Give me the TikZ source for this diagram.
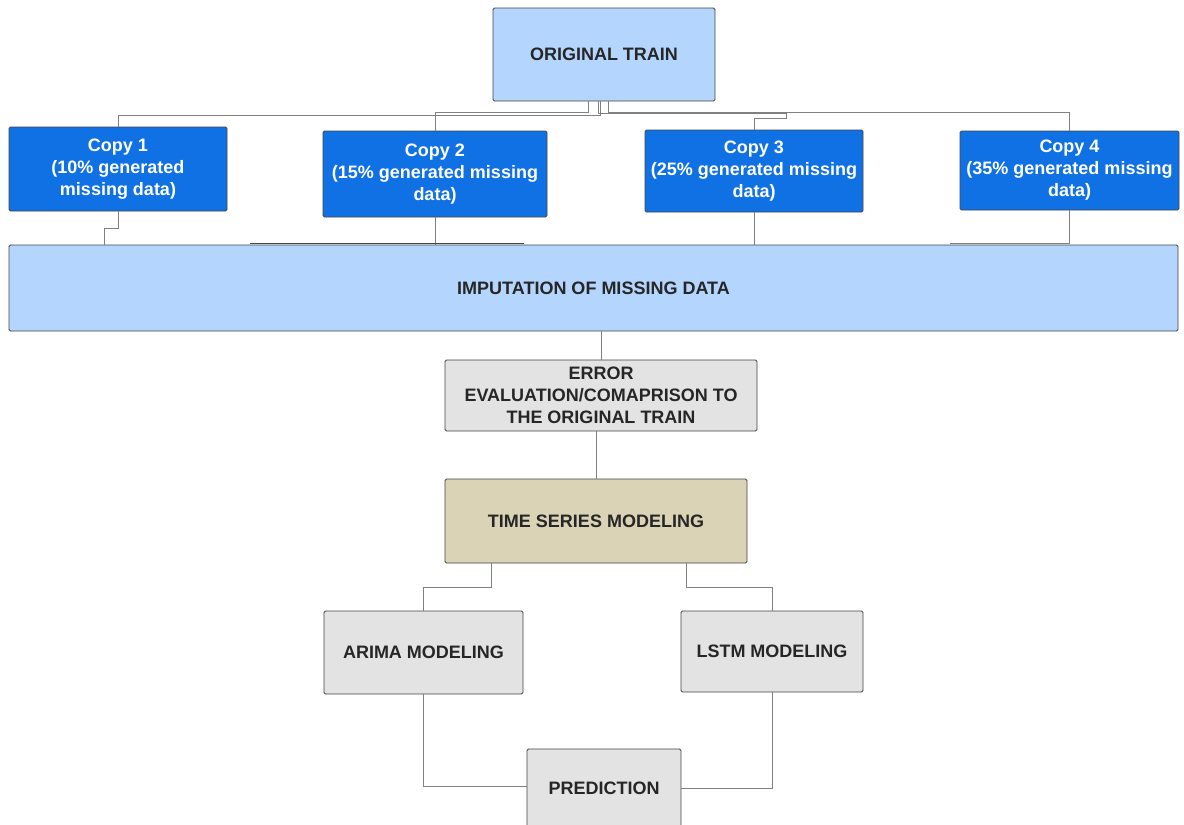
\documentclass[tikz,border=0pt]{standalone}
\usepackage{fontspec}
\setmainfont{Liberation Sans}
\usetikzlibrary{calc}
\definecolor{lightblue}{HTML}{B4D6FE}
\definecolor{copyblue}{HTML}{1071E5}
\definecolor{boxgray}{HTML}{E3E3E3}
\definecolor{tsbeige}{HTML}{DBD3B5}
\definecolor{edgegray}{HTML}{444444}
\definecolor{linegray}{HTML}{808080}
\definecolor{txtdark}{HTML}{262626}
\begin{document}
\begin{tikzpicture}[x=1pt,y=-1pt,
 box/.style={draw=edgegray, line width=0.8pt, rounded corners=1.5pt, inner sep=0pt, align=center, font=\fontsize{18}{22}\selectfont\bfseries, text=txtdark},
 copybox/.style={box, fill=copyblue, text=white},
 lbbox/.style={box, fill=lightblue},
 graybox/.style={box, fill=boxgray},
 tsbox/.style={box, fill=tsbeige},
 conn/.style={draw=linegray, line width=0.8pt}]
\useasboundingbox (0,0) rectangle (1184,825);
\clip (0,0) rectangle (1184,825);

\node[lbbox, minimum width=222pt, minimum height=93pt] (orig) at (604,54.5) {ORIGINAL TRAIN};
\node[copybox, minimum width=218pt, minimum height=84pt] (c1) at (118,169) {Copy 1\\(10\% generated\\missing data)};
\node[copybox, minimum width=224pt, minimum height=86pt] (c2) at (435,174) {Copy 2\\(15\% generated missing\\data)};
\node[copybox, minimum width=218pt, minimum height=82pt] (c3) at (754,171) {Copy 3\\(25\% generated missing\\data)};
\node[copybox, minimum width=219pt, minimum height=79pt] (c4) at (1069.5,170.5) {Copy 4\\(35\% generated missing\\data)};
\node[lbbox, minimum width=1169pt, minimum height=86pt] (imp) at (593.5,288) {IMPUTATION OF MISSING DATA};
\node[graybox, minimum width=312pt, minimum height=71pt] (err) at (601,395.5) {ERROR\\EVALUATION/COMAPRISON TO\\THE ORIGINAL TRAIN};
\node[tsbox, minimum width=302pt, minimum height=84pt] (ts) at (596,521) {TIME SERIES MODELING};
\node[graybox, minimum width=199pt, minimum height=83pt] (arima) at (423.5,652.5) {ARIMA MODELING};
\node[graybox, minimum width=182pt, minimum height=81pt] (lstm) at (772,651.5) {LSTM MODELING};
\node[graybox, minimum width=154pt, minimum height=78pt] (pred) at (604,788) {PREDICTION};

% original train to copies
\draw[conn] ([xshift=-4pt]orig.south) |- ([yshift=11.3pt]c1.north) -- (c1.north);
\draw[conn] ([xshift=-16pt]orig.south) |- ([yshift=18.3pt]c2.north) -- (c2.north);
\draw[conn] ([xshift=-6pt]orig.south) |- ([xshift=32pt,yshift=16.7pt]c3.north) -- ([xshift=32pt,yshift=11.7pt]c3.north) -- ([yshift=11.7pt]c3.north) -- (c3.north);
\draw[conn] ([xshift=4pt]orig.south) |- ([yshift=18.7pt]c4.north) -- (c4.north);

% copies to imputation
\draw[conn] (c1.south) -- ([yshift=-16.7pt]c1.south) -- ([xshift=-13.5pt,yshift=-16.7pt]c1.south) -- ($(c1.south |- imp.north)+(-13.5,0)$);
\draw[conn] (c2.south) -- (c2.south |- imp.north);
\draw[draw=edgegray, line width=0.8pt] ($(c2.south |- imp.north)+(-185,-1)$) -- ($(c2.south |- imp.north)+(89,-1)$);
\draw[conn] (c3.south) -- (c3.south |- imp.north);
\draw[conn] (c4.south) -- ($(c4.south |- imp.north)+(0,-1)$) -- ($(c4.south |- imp.north)+(-120,-1)$);

% vertical chain
\draw[conn] (imp.south -| err.north) -- (err.north);
\draw[conn] (err.south -| ts.north) -- (ts.north);
\draw[conn] ($(ts.south)+(-105,0)$) -- ++(0,24) -| (arima.north);
\draw[conn] ($(ts.south)+(90.5,0)$) -- ++(0,24) -| (lstm.north);
\draw[conn] (arima.south) |- ($(pred.west)+(0,-2)$);
\draw[conn] (lstm.south) |- (pred.east);
\end{tikzpicture}
\end{document}
